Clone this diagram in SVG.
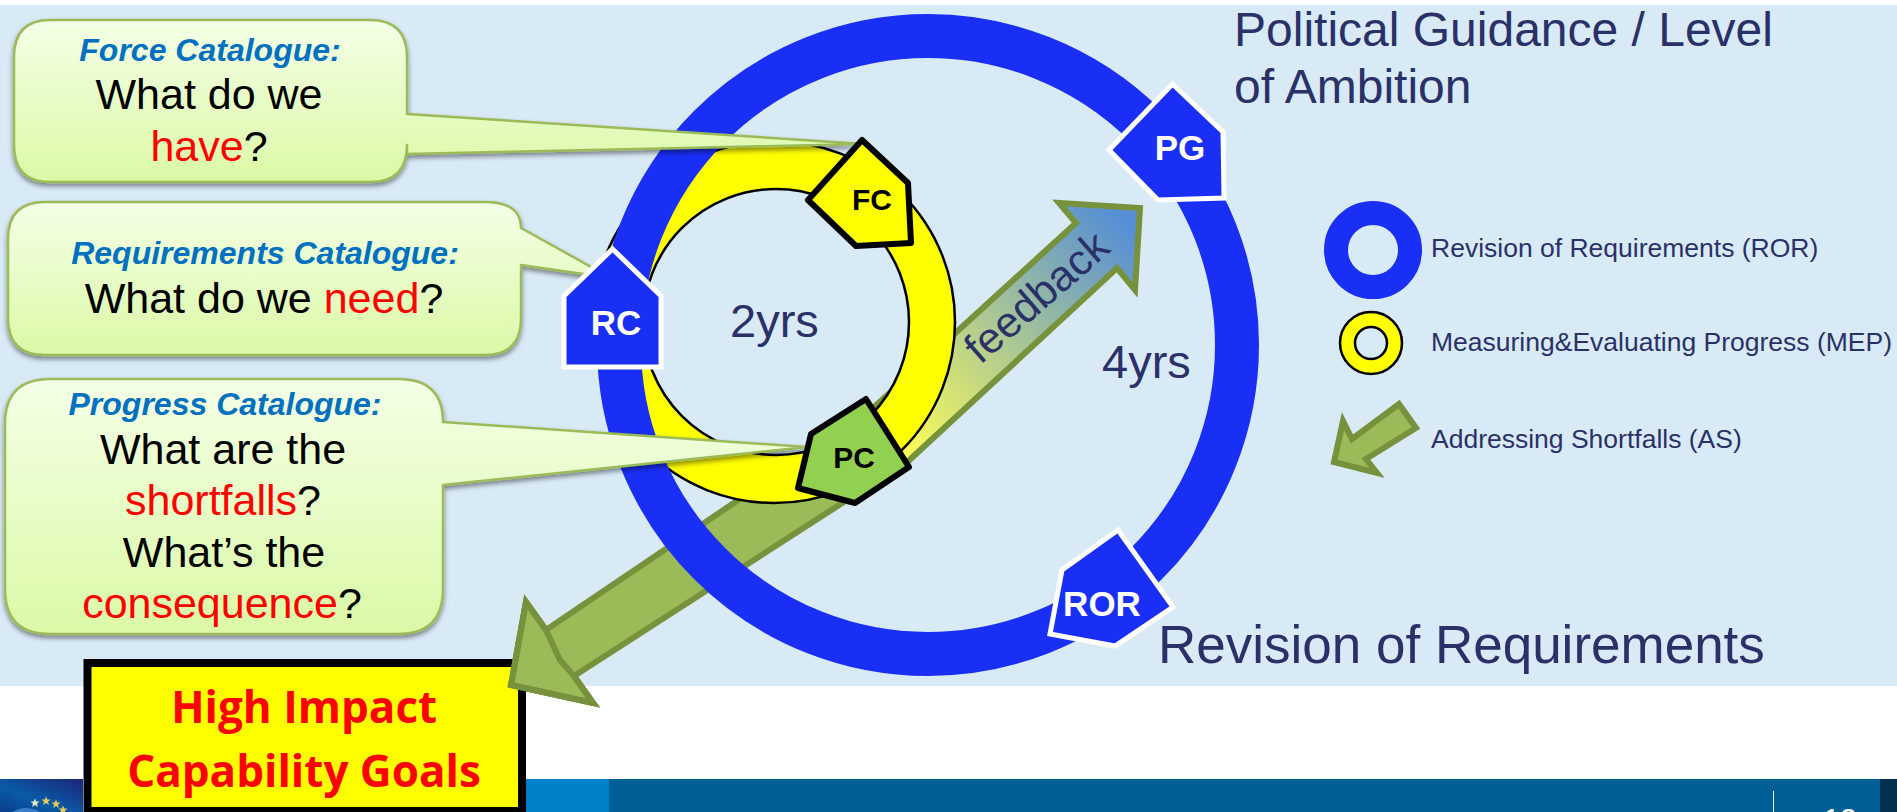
<svg xmlns="http://www.w3.org/2000/svg" width="1897" height="812" viewBox="0 0 1897 812">
<style>
text{font-family:"Liberation Sans",Arial,sans-serif}
.call{fill:url(#callG);stroke:#9bbb59;stroke-width:2.5;stroke-linejoin:round;filter:url(#sh)}
.ttl{font-weight:bold;font-style:italic;font-size:32px;fill:#0070c0;text-anchor:middle}
.q{font-size:43px;fill:#000;text-anchor:middle}
.r{fill:#ff0000}
.dk{fill:#2a3168}
.lg{font-size:26.5px}
.pw{fill:#1a2ff5;stroke:#fff;stroke-width:5;stroke-linejoin:miter}
.pk{stroke:#000;stroke-width:6;stroke-linejoin:round}
.lw{font-weight:bold;font-size:35px;fill:#fff;text-anchor:middle}
.lk{font-weight:bold;font-size:30px;fill:#000;text-anchor:middle}
.arr{stroke:#76923c;stroke-width:6;stroke-linejoin:miter}
.hi{font-family:"Open Sans","Noto Sans",sans-serif;font-weight:bold;font-size:44px;fill:#ff0000;text-anchor:middle}
</style>
<defs>
<linearGradient id="callG" x1="0" y1="0" x2="0" y2="1"><stop offset="0" stop-color="#f4ffe6"/><stop offset="1" stop-color="#daf9a6"/></linearGradient>
<linearGradient id="fb" gradientUnits="userSpaceOnUse" x1="890" y1="450" x2="1130" y2="225"><stop offset="0" stop-color="#ffff55"/><stop offset="1" stop-color="#558ed5"/></linearGradient>
<linearGradient id="logo" x1="1" y1="0" x2="0" y2="1"><stop offset="0" stop-color="#1c2578"/><stop offset="0.6" stop-color="#0a5aa8"/><stop offset="1" stop-color="#0a3f8c"/></linearGradient>
<filter id="sh" x="-5%" y="-5%" width="110%" height="115%"><feDropShadow dx="0" dy="3" stdDeviation="2.5" flood-color="#000" flood-opacity="0.45"/></filter>
<polygon id="star" points="0,-4.5 1.3,-1.4 4.5,-1.4 2,0.7 2.9,4 0,2.1 -2.9,4 -2,0.7 -4.5,-1.4 -1.3,-1.4"/>
</defs>

<rect id="page-bg" x="0" y="0" width="1897" height="812" fill="#fff"/>
<rect id="panel" x="0" y="5" width="1897" height="681" fill="#d9eaf7"/>

<g id="footer">
<rect x="0" y="779" width="83" height="33" fill="url(#logo)"/>
<circle cx="26" cy="832" r="24" fill="#3b7fc9"/>
<use href="#star" x="35" y="803" fill="#e8e8c0"/>
<use href="#star" x="46" y="801" fill="#e3c75a"/>
<use href="#star" x="56" y="804" fill="#e3c75a"/>
<use href="#star" x="63" y="810" fill="#e3c75a"/>
<rect x="526" y="779" width="83" height="33" fill="#0080c8"/>
<rect x="609" y="779" width="1271" height="33" fill="#006096"/>
<rect x="1880" y="779" width="17" height="33" fill="#04304f"/>
<rect x="1773" y="791" width="1" height="21" fill="#fff"/>
<text x="1840" y="829" font-size="30" fill="#fff" text-anchor="middle">12</text>
</g>

<g id="connectors">
<polygon id="addressing-arrow" class="arr" fill="#9bbb59" points="790,465 546,630 526,602 511,685 593,703 574,676 850,498"/>
<polygon id="feedback-arrow" class="arr" fill="url(#fb)" points="860,420 1076,223 1059,203 1140,208 1135,290 1117,268 890,478"/>
</g>

<g id="cycle-mep">
<path fill="#ffff00" fill-rule="evenodd" stroke="#000" stroke-width="2.5" d="M593,322a181,181 0 1,0 362,0a181,181 0 1,0 -362,0ZM643,322a133,133 0 1,1 266,0a133,133 0 1,1 -266,0Z"/>
</g>
<g id="cycle-ror">
<circle cx="928" cy="345" r="309" fill="none" stroke="#1a2ff5" stroke-width="44"/>
</g>

<text class="dk" x="730" y="337" style="font-size:47px">2yrs</text>
<text class="dk" x="1102" y="378" style="font-size:47px">4yrs</text>
<text id="feedback-label" class="dk" x="0" y="0" font-size="43" text-anchor="middle" transform="translate(1046,308) rotate(-41)">feedback</text>

<g id="force-callout">
<path class="call" d="M50,20H370Q407,20 407,57V114L864,144L407,154V145Q407,182 370,182H50Q14,182 14,145V57Q14,20 50,20Z"/>
<text class="ttl" x="210" y="61">Force Catalogue:</text>
<text class="q" x="209" y="109">What do we</text>
<text class="q" x="209" y="161"><tspan class="r">have</tspan>?</text>
</g>
<g id="requirements-callout">
<path class="call" d="M45,202H485Q521,202 521,228L611,278L521,265V318Q521,355 485,355H45Q8,355 8,318V239Q8,202 45,202Z"/>
<text class="ttl" x="265" y="264">Requirements Catalogue:</text>
<text class="q" x="264" y="313">What do we <tspan class="r">need</tspan>?</text>
</g>
<g id="progress-callout">
<path class="call" d="M50,379H398Q443,379 443,422L807,447L443,485V589Q443,634 398,634H50Q5,634 5,589V424Q5,379 50,379Z"/>
<text class="ttl" x="225" y="415">Progress Catalogue:</text>
<text class="q" x="223" y="464">What are the</text>
<text class="q" x="223" y="515"><tspan class="r">shortfalls</tspan>?</text>
<text class="q" x="224" y="567">What’s the</text>
<text class="q" x="222" y="618"><tspan class="r">consequence</tspan>?</text>
</g>

<g id="goals-box">
<rect x="87.5" y="663" width="434.5" height="148" fill="#ffff00" stroke="#000" stroke-width="8"/>
<text class="hi" x="304" y="723">High Impact</text>
<text class="hi" x="304" y="787">Capability Goals</text>
</g>
<polygon id="addressing-arrowhead" class="arr" fill="#9bbb59" stroke="none" points="511,685 526,602 546,630 560,660 574,676 593,703"/>
<polyline class="arr" fill="none" points="546,630 526,602 511,685 593,703 574,676"/>

<g id="node-fc">
<polygon class="pk" fill="#ffff00" points="862,140 908,183 911,243 856,246 808,200"/>
<text class="lk" x="872" y="210">FC</text>
</g>
<g id="node-rc">
<polygon class="pw" points="612.5,249 661,296 661,367 564,367 564,296"/>
<text class="lw" x="616" y="335">RC</text>
</g>
<g id="node-pc">
<polygon class="pk" fill="#92d050" points="866,399 909,467 855,503 798,488 811,434"/>
<text class="lk" x="854" y="468">PC</text>
</g>
<g id="node-pg">
<polygon class="pw" points="1172.5,84 1223,132 1224,198 1158,200 1109,150"/>
<text class="lw" x="1180" y="160">PG</text>
</g>
<g id="node-ror">
<polygon class="pw" points="1118,530 1173,607 1115,646 1050,634 1062,570"/>
<text class="lw" x="1102" y="616">ROR</text>
</g>

<g id="headings">
<text class="dk" x="1234" y="46" style="font-size:48px">Political Guidance / Level</text>
<text class="dk" x="1234" y="103" style="font-size:48px">of Ambition</text>
<text class="dk" x="1158" y="663" style="font-size:53px">Revision of Requirements</text>
</g>

<g id="legend">
<circle cx="1373" cy="250" r="37" fill="none" stroke="#1a2ff5" stroke-width="24"/>
<text class="dk lg" x="1431" y="257">Revision of Requirements (ROR)</text>
<path fill="#ffff00" fill-rule="evenodd" stroke="#000" stroke-width="2.5" d="M1340,343a31,31 0 1,0 62,0a31,31 0 1,0 -62,0ZM1355,343a16,16 0 1,1 32,0a16,16 0 1,1 -32,0Z"/>
<text class="dk lg" x="1431" y="351">Measuring&amp;Evaluating Progress (MEP)</text>
<polygon class="arr" fill="#9bbb59" points="1334,462 1343,421 1352,439 1399,404 1416,428 1366,459 1377,473"/>
<text class="dk lg" x="1431" y="448">Addressing Shortfalls (AS)</text>
</g>
</svg>
